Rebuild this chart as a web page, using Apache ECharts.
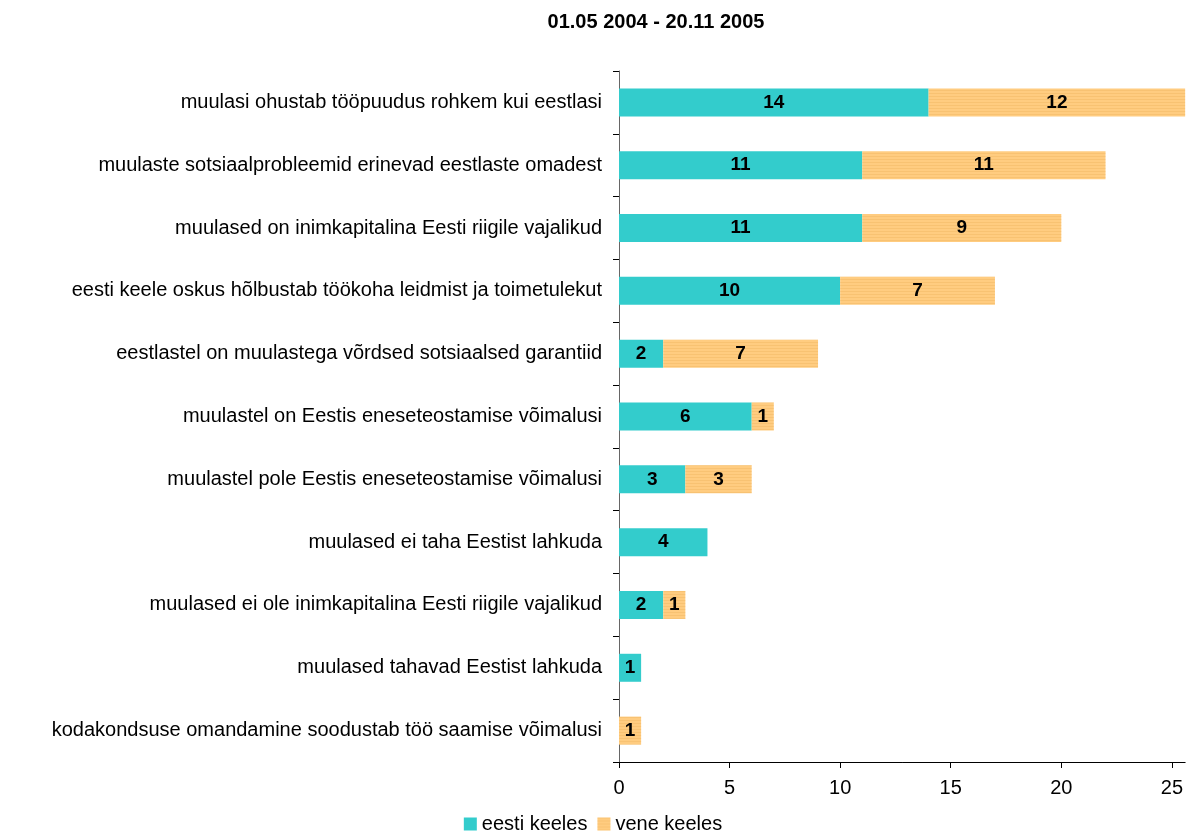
<!DOCTYPE html>
<html>
<head>
<meta charset="utf-8">
<script src="https://cdn.jsdelivr.net/npm/echarts@6/dist/echarts.min.js"></script>
<style>html,body{margin:0;padding:0;background:#fff}#c{width:1186px;height:834px}</style>
</head>
<body>
<div id="c"></div>
<script>
var titleText = '01.05 2004 - 20.11 2005';
var categories = [
  'muulasi ohustab tööpuudus rohkem kui eestlasi',
  'muulaste sotsiaalprobleemid erinevad eestlaste omadest',
  'muulased on inimkapitalina Eesti riigile vajalikud',
  'eesti keele oskus hõlbustab töökoha leidmist ja toimetulekut',
  'eestlastel on muulastega võrdsed sotsiaalsed garantiid',
  'muulastel on Eestis eneseteostamise võimalusi',
  'muulastel pole Eestis eneseteostamise võimalusi',
  'muulased ei taha Eestist lahkuda',
  'muulased ei ole inimkapitalina Eesti riigile vajalikud',
  'muulased tahavad Eestist lahkuda',
  'kodakondsuse omandamine soodustab töö saamise võimalusi'
];
var seriesNames = ['eesti keeles', 'vene keeles'];
var eestiValues = [14, 11, 11, 10, 2, 6, 3, 4, 2, 1, null];
var veneValues = [12, 11, 9, 7, 7, 1, 3, null, 1, null, 1];
var xTicks = [0, 5, 10, 15, 20, 25];

var chart = echarts.init(document.getElementById('c'));
var font = 'Liberation Sans, Arial, sans-serif';
var labelStyle = {show: true, position: 'inside', color: '#000', fontWeight: 'bold', fontSize: 19, fontFamily: font};
chart.setOption({
  animation: false,
  textStyle: {fontFamily: font},
  title: {text: titleText, left: 651, top: 7, textAlign: 'center',
    textStyle: {fontSize: 20, fontWeight: 'bold', color: '#000', fontFamily: font}},
  legend: {data: seriesNames, top: 809, left: 'center', itemWidth: 13, itemHeight: 13, itemGap: 10,
    icon: 'rect',
    textStyle: {fontSize: 20, color: '#000', fontFamily: font}},
  grid: {left: 619, top: 71, bottom: 72, right: 0, containLabel: false},
  xAxis: {type: 'value', min: 0, max: 25.6, interval: 5,
    axisLine: {show: true, lineStyle: {color: '#000', width: 1}},
    axisTick: {show: true, length: 6, lineStyle: {color: '#000'}},
    splitLine: {show: false},
    axisLabel: {fontSize: 20, color: '#000', margin: 16, showMaxLabel: false,
      formatter: function (v) { return xTicks.indexOf(v) >= 0 ? String(v) : ''; }}},
  yAxis: {type: 'category', data: categories, inverse: true,
    axisLine: {show: true, lineStyle: {color: '#666', width: 1}},
    axisTick: {show: true, length: 6, lineStyle: {color: '#000'}},
    axisLabel: {fontSize: 20, color: '#000', margin: 17}},
  series: [
    {name: seriesNames[0], type: 'bar', stack: 'a', data: eestiValues, barWidth: 28,
      itemStyle: {color: '#33CCCC'}, label: labelStyle},
    {name: seriesNames[1], type: 'bar', stack: 'a', data: veneValues, barWidth: 28,
      itemStyle: {color: '#FFCC80',
        decal: {symbol: 'rect', dashArrayX: [[1, 0]], dashArrayY: [1, 2], symbolSize: 1,
          color: 'rgba(235,175,90,0.35)', rotation: 0}},
      label: labelStyle}
  ]
});
</script>
</body>
</html>
